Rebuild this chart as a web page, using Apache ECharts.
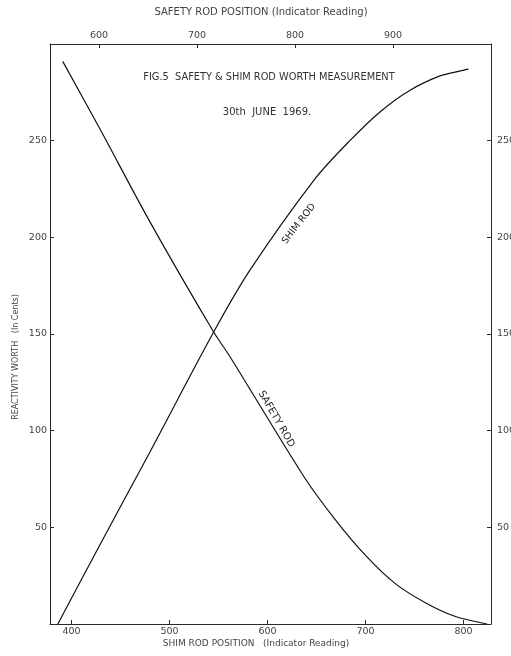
<!DOCTYPE html>
<html>
<head>
<meta charset="utf-8">
<script src="https://cdn.jsdelivr.net/npm/echarts@6/dist/echarts.min.js"></script>
<style>
  html, body { margin: 0; padding: 0; background: #fff; }
  #chart { width: 511px; height: 656px; }
</style>
</head>
<body>
<div id="chart"></div>
<script>
// shim rod, read against the bottom scale
var shimPos = [386, 429, 480, 545, 582, 648, 684, 715, 745, 776, 796, 805];
var shimWorth = [0, 41, 89, 151, 183, 230, 250, 265, 276, 283.5, 286, 287];
// safety rod, read against the top scale
var safetyPos = [563, 601, 652, 717, 734, 810, 841, 871, 902, 933, 963, 996];
var safetyWorth = [291, 256, 208, 151, 138, 75.5, 54, 36, 21, 11, 4, 0];

var shimTicks = [400, 500, 600, 700, 800];
var safetyTicks = [600, 700, 800, 900];
var worthTicks = [50, 100, 150, 200, 250];

var ink = '#2b2b2b';
var font = 'DejaVu Sans';

function pairs(xs, ys) {
    var res = [];
    for (var i = 0; i < xs.length; i++) {
        res.push([xs[i], ys[i]]);
    }
    return res;
}

function xAxisOf(pos, min, max, ticks) {
    return {
        type: 'value',
        position: pos,
        min: min,
        max: max,
        splitLine: { show: false },
        axisLine: { show: true, onZero: false, lineStyle: { color: ink, width: 1 } },
        axisTick: { show: true, inside: true, length: 4, customValues: ticks, lineStyle: { color: ink } },
        axisLabel: {
            customValues: ticks,
            color: '#444',
            fontFamily: font,
            fontSize: 9.5,
            margin: 3
        }
    };
}

function yAxisOf(pos) {
    return {
        type: 'value',
        position: pos,
        min: 0,
        max: 300,
        splitLine: { show: false },
        axisLine: { show: true, onZero: false, lineStyle: { color: ink, width: 1 } },
        axisTick: { show: true, inside: true, length: 4, customValues: worthTicks, lineStyle: { color: ink } },
        axisLabel: {
            customValues: worthTicks,
            color: '#444',
            fontFamily: font,
            fontSize: 9.5,
            margin: pos === 'right' ? 6 : 3
        }
    };
}

var chart = echarts.init(document.getElementById('chart'), null, { renderer: 'canvas' });

var option = {
    backgroundColor: '#fff',
    animation: false,
    grid: { left: 50, right: 20, top: 44, bottom: 32, containLabel: false, outerBoundsMode: 'none' },
    xAxis: [
        xAxisOf('bottom', 378, 828, shimTicks),
        xAxisOf('top', 550, 1000, safetyTicks)
    ],
    yAxis: [yAxisOf('left'), yAxisOf('right')],
    graphic: [
        {
            type: 'text', x: 261, y: 12,
            style: { text: 'SAFETY ROD POSITION (Indicator Reading)', fill: '#444', font: '10px ' + font, align: 'center', verticalAlign: 'middle' }
        },
        {
            type: 'text', x: 256, y: 644,
            style: { text: 'SHIM ROD POSITION   (Indicator Reading)', fill: '#444', font: '9px ' + font, align: 'center', verticalAlign: 'middle' }
        },
        {
            type: 'text', x: 16, y: 357, rotation: Math.PI / 2,
            style: { text: 'REACTIVITY WORTH   (In Cents)', fill: '#444', font: '8px ' + font, align: 'center', verticalAlign: 'middle' }
        },
        {
            type: 'text', x: 269, y: 77,
            style: { text: 'FIG.5  SAFETY & SHIM ROD WORTH MEASUREMENT', fill: '#333', font: '9.8px ' + font, align: 'center', verticalAlign: 'middle' }
        },
        {
            type: 'text', x: 267, y: 112,
            style: { text: '30th  JUNE  1969.', fill: '#333', font: '10px ' + font, align: 'center', verticalAlign: 'middle' }
        }
    ],
    series: [
        {
            name: 'SHIM ROD',
            type: 'line',
            xAxisIndex: 0,
            yAxisIndex: 0,
            smooth: 0.3,
            showSymbol: false,
            lineStyle: { color: '#111', width: 1.2 },
            data: pairs(shimPos, shimWorth),
            markPoint: {
                symbol: 'circle',
                symbolSize: 0,
                label: { show: true, formatter: 'SHIM ROD', rotate: 52, color: '#222', fontFamily: font, fontSize: 9.5 },
                data: [{ coord: [632, 207] }]
            }
        },
        {
            name: 'SAFETY ROD',
            type: 'line',
            xAxisIndex: 1,
            yAxisIndex: 0,
            smooth: 0.3,
            showSymbol: false,
            lineStyle: { color: '#111', width: 1.2 },
            data: pairs(safetyPos, safetyWorth),
            markPoint: {
                symbol: 'circle',
                symbolSize: 0,
                label: { show: true, formatter: 'SAFETY ROD', rotate: -60, color: '#222', fontFamily: font, fontSize: 10 },
                data: [{ coord: [781, 106] }]
            }
        }
    ]
};

chart.setOption(option);
</script>
</body>
</html>
